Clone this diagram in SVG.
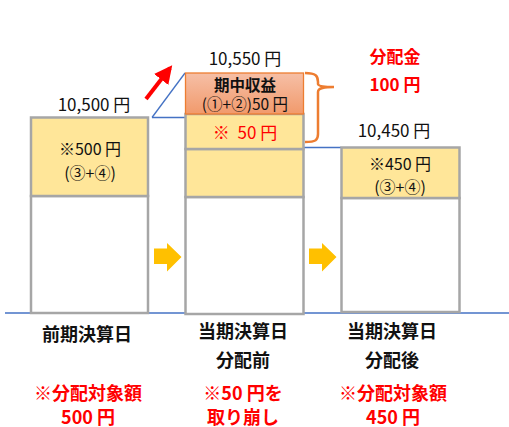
<svg xmlns="http://www.w3.org/2000/svg" width="509" height="427" viewBox="0 0 509 427">
<defs>
<linearGradient id="og" x1="0" y1="0" x2="0" y2="1">
<stop offset="0" stop-color="#F6BFA6"/>
<stop offset="1" stop-color="#F19A6C"/>
</linearGradient>
<marker id="rh" viewBox="0 0 10 10" refX="8" refY="5" markerWidth="4.5" markerHeight="4.5" orient="auto" markerUnits="strokeWidth">
<path d="M0,0 L10,5 L0,10 z" fill="#FF0000"/>
</marker>
</defs>
<style>
text{font-family:"Noto Sans CJK JP","Noto Sans",sans-serif;font-size:16px;text-anchor:middle;dominant-baseline:central;fill:#111}
.l{font-size:17px}
.t{font-size:18px}
.s{font-size:15.5px}
.b{font-weight:bold}
.r{fill:#FF0000}
.box{stroke:#A6A6A6;stroke-width:2.5}
.y{fill:#FFE699}
.w{fill:#FFFFFF}
.blue{stroke:#4472C4;stroke-width:1.3;fill:none}
</style>
<g id="connectors">
<line class="blue" x1="5" y1="313" x2="509" y2="313"/>
<polyline class="blue" points="152,117.5 185,117.5"/>
<line class="blue" x1="152" y1="117.5" x2="185" y2="73"/>
<line class="blue" x1="304" y1="147.5" x2="341" y2="147.5"/>
<line x1="146" y1="99" x2="170" y2="68" stroke="#FF0000" stroke-width="4" marker-end="url(#rh)"/>
<path d="M154,248.5 H167 V243 L181.5,257 L167,271.5 V264 H154 Z" fill="#FFC000"/>
<path d="M309,248.5 H322 V243 L336.5,257 L322,271.5 V264 H309 Z" fill="#FFC000"/>
<path d="M305,73 C316,73 318,76 318,82 V84 C318,86 324,87 334,87 C324,87 318,88 318,92 V134 C318,140 316,142 305,142" fill="none" stroke="#ED7D31" stroke-width="2.5"/>
</g>
<g id="node-prev">
<rect class="box w" x="31" y="196" width="117" height="117"/>
<rect class="box y" x="31" y="117.5" width="117" height="78.5"/>
<text class="l" x="94" y="103">10,500 円</text>
<text x="90" y="148">※500 円</text>
<text x="90" y="172">(③+④)</text>
<text class="b t" x="87" y="333">前期決算日</text>
<text class="b t r" x="88" y="392">※分配対象額</text>
<text class="b t r" x="88" y="415.5">500 円</text>
</g>
<g id="node-before">
<rect class="box w" x="185.5" y="197" width="118" height="117"/>
<rect class="box y" x="185.5" y="149" width="118" height="48"/>
<rect class="box y" x="185.5" y="114" width="118" height="35"/>
<rect x="185.5" y="73" width="118" height="41" fill="url(#og)" stroke="#ED7D31" stroke-width="1.3"/>
<text class="l" x="245" y="57">10,550 円</text>
<text class="b s" x="245" y="83.5">期中収益</text>
<text class="s" x="245" y="102.5">(①+②)50 円</text>
<text class="r l" x="245" y="131" xml:space="preserve">※  50 円</text>
<text class="b t" x="243" y="330">当期決算日</text>
<text class="b t" x="243" y="359">分配前</text>
<text class="b t r" x="243" y="392">※50 円を</text>
<text class="b t r" x="243" y="415.5">取り崩し</text>
</g>
<g id="node-dist">
<text class="b l r" x="395" y="55">分配金</text>
<text class="b l r" x="395" y="83">100 円</text>
</g>
<g id="node-after">
<rect class="box w" x="341.5" y="198" width="118" height="114"/>
<rect class="box y" x="341.5" y="147.5" width="118" height="50.5"/>
<text class="l" x="394" y="129">10,450 円</text>
<text x="400" y="163">※450 円</text>
<text x="400" y="186">(③+④)</text>
<text class="b t" x="392" y="330">当期決算日</text>
<text class="b t" x="392" y="359">分配後</text>
<text class="b t r" x="393" y="392">※分配対象額</text>
<text class="b t r" x="393" y="415.5">450 円</text>
</g>
</svg>
